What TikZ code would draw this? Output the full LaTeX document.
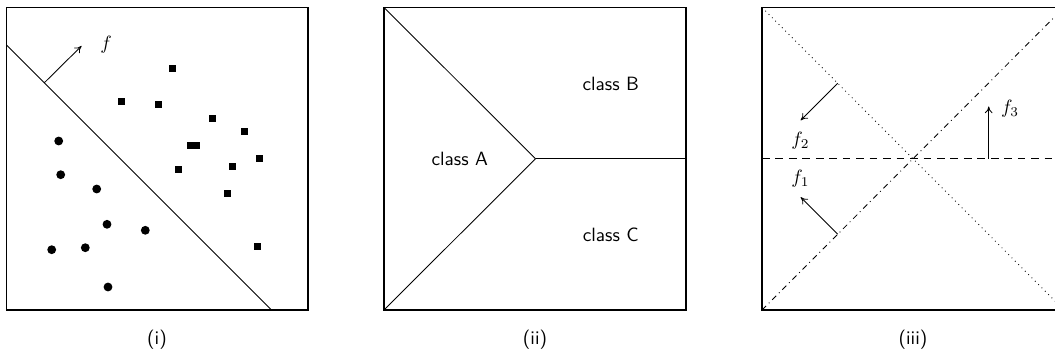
\documentclass[tikz,border=0pt]{standalone}
\usetikzlibrary{arrows.meta}
\begin{document}
\begin{tikzpicture}[x=0.52pt,y=-0.52pt,
  panel/.style={line width=0.7pt},
  sep/.style={line width=0.45pt},
  vec/.style={line width=0.45pt,-{To[length=3.5pt,width=4pt]}},
  lab/.style={font=\sffamily},
  sq/.style={fill=black},
  dot/.style={fill=black}]
\useasboundingbox (0,0) rectangle (1055,360);
\clip (0,0) rectangle (1055,360);
% ---------- panel (i)
\draw[panel] (6.5,7.5) rectangle (308,310);
\draw[sep] (6.5,45) -- (271.5,310);
\coordinate (fa) at (44.3,82.8);
\coordinate (fb) at (81.5,46);
\draw[vec] (fa) -- (fb);
\node (flab) at (106,45) {$f$};
\foreach \x/\y in {172.3/68.3,121.3/101.3,158.3/104.3,212.3/118.3,244.3/131.3,190.7/145.3,196/145.3,259.3/158.3,232.3/166.3,178.3/169.3,227.3/193.3,257.3/246.3}
  \fill[sq] (\x-3.5,\y-3.5) rectangle (\x+3.5,\y+3.5);
\foreach \x/\y in {58.7/141,60.7/174.7,96.7/189,107/224.3,145.3/230.3,51.7/249.7,85.3/247.7,108/287}
  \fill[dot] (\x,\y) circle (2.3pt);
\node[lab] (capi) at (157,340) {(i)};
% ---------- panel (ii)
\draw[panel] (384,7.5) rectangle (686,310);
\coordinate (tl2) at (384,7.5);
\coordinate (bl2) at (384,310);
\coordinate (m2) at (535.5,158.75);
\coordinate (r2) at (686,158.75);
\draw[sep] (tl2) -- (m2) -- (bl2);
\draw[sep] (m2) -- (r2);
\node[lab] (cB) at (610.7,84) {class B};
\node[lab] (cA) at (459.7,159) {class A};
\node[lab] (cC) at (610.7,235) {class C};
\node[lab] (capii) at (535,340) {(ii)};
% ---------- panel (iii)
\draw[panel] (762,7.5) rectangle (1064,310);
\draw[sep,dotted] (762,7.5) -- (1064,310);
\draw[sep,dash dot] (762,310) -- (1064,7.5);
\draw[sep,dashed,dash pattern=on 4pt off 3pt] (762,158.75) -- (1064,158.75);
\coordinate (f2a) at (837.7,83.3);
\coordinate (f2b) at (800.7,120.3);
\draw[vec] (f2a) -- (f2b);
\node (f2lab) at (800.5,141) {$f_2$};
\coordinate (f1a) at (837.7,234.2);
\coordinate (f1b) at (800.7,197.2);
\draw[vec] (f1a) -- (f1b);
\node (f1lab) at (800.5,179) {$f_1$};
\coordinate (f3a) at (988.7,158.75);
\coordinate (f3b) at (988.7,106.5);
\draw[vec] (f3a) -- (f3b);
\node (f3lab) at (1010,109) {$f_3$};
\node[lab] (capiii) at (913,340) {(iii)};
\end{tikzpicture}
\end{document}
